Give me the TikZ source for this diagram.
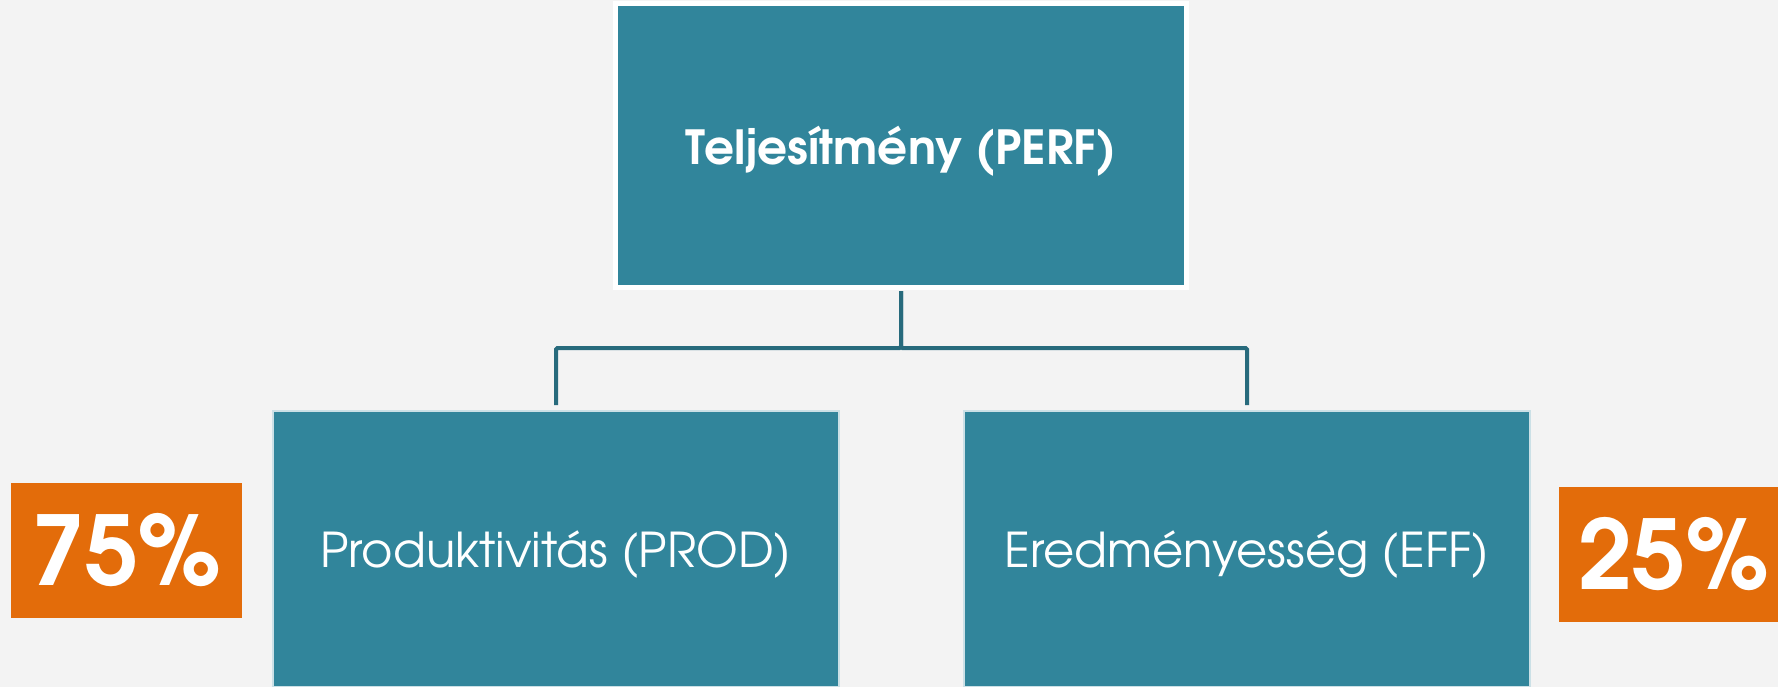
\documentclass[tikz,border=0pt]{standalone}
\usepackage{fontspec}
\setmainfont{texgyreadventor}[Extension=.otf, UprightFont=*-regular, BoldFont=*-bold]
\definecolor{boxblue}{RGB}{49,133,155}
\definecolor{connblue}{RGB}{39,106,124}
\definecolor{orng}{RGB}{227,108,10}
\definecolor{bgc}{RGB}{243,243,243}
\begin{document}
\begin{tikzpicture}[x=1pt,y=-1pt,
  topbox/.style={fill=boxblue, draw=white, line width=5pt, inner sep=0pt, outer sep=0pt,
    anchor=north west, minimum width=571pt, minimum height=284pt,
    text height=39pt, text depth=0pt,
    text=white, font=\bfseries\fontsize{47}{56}\selectfont},
  subbox/.style={fill=boxblue, draw=white!75!boxblue, line width=1.5pt, inner sep=0pt, outer sep=0pt,
    anchor=north west, minimum width=566pt, minimum height=276pt,
    text height=36pt, text depth=0pt,
    text=white, font=\fontsize{48}{58}\selectfont},
  pctbox/.style={fill=orng, inner sep=0pt, outer sep=0pt, anchor=north west,
    minimum height=135pt, text=white, font=\bfseries\fontsize{96}{100}\selectfont},
  conn/.style={draw=connblue, line width=4pt, rounded corners=1.5pt}]
\clip (0,0) rectangle (1778,687);
\fill[bgc] (0,0) rectangle (1778,687);
\node[topbox] (perf) at (615.5,3.5) {Teljesítmény (PERF)};
\node[subbox] (prod) at (273,411) {Produktivitás (PROD)};
\node[subbox] (eff) at (964,411) {Eredményesség (EFF)};
\node[pctbox, minimum width=231pt] (p75) at (11,483) {75\%};
\node[pctbox, minimum width=230pt] (p25) at (1559,487) {25\%};
\draw[conn] ([yshift=-3.5pt]perf.south) -- ++(0,57) -| ([yshift=6pt]prod.north);
\draw[conn] ([yshift=-3.5pt]perf.south) -- ++(0,57) -| ([yshift=6pt]eff.north);
\end{tikzpicture}
\end{document}
